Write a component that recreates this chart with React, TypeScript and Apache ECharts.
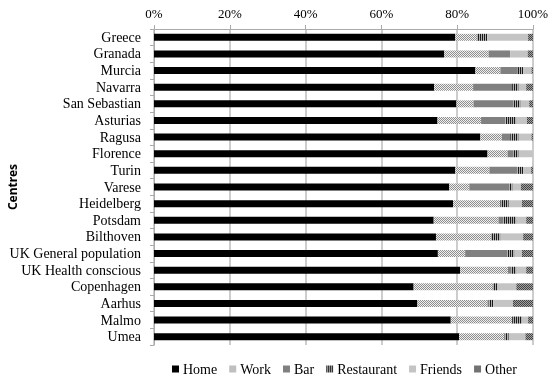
import React, { useEffect, useRef } from "react";
import * as echarts from "echarts";

const centres = ["Greece","Granada","Murcia","Navarra","San Sebastian","Asturias","Ragusa","Florence","Turin","Varese","Heidelberg","Potsdam","Bilthoven","UK General population","UK Health conscious","Copenhagen","Aarhus","Malmo","Umea"];
const home = [79.5,76.6,84.8,73.9,79.8,74.8,86.1,88.0,79.5,77.9,78.9,73.8,74.4,74.9,80.8,68.5,69.5,78.3,80.5];
const work = [5.7,11.7,6.6,10.3,4.5,11.5,5.7,5.3,9.0,5.3,12.5,17.1,14.5,7.2,12.6,20.9,18.5,16.2,12.0];
const bar = [0,5.7,4.6,10.3,10.6,6.4,2.2,1.6,7.3,10.4,0,1.2,0,11.2,0.8,0,0.4,0,0];
const restaurant = [2.8,0,1.4,1.7,1.8,2.9,2.2,1.3,1.6,1.0,2.2,3.5,2.5,1.8,1.4,1.3,1.2,2.6,1.1];
const friends = [10.7,4.6,2.2,2.0,2.3,2.8,3.4,3.8,2.1,2.2,3.5,2.6,6.0,2.0,2.6,4.9,5.1,1.6,4.4];
const other = [1.3,1.4,0.4,1.8,1.0,1.6,0.4,0,0.5,3.2,2.9,1.8,2.6,2.9,1.8,4.4,5.3,1.3,2.0];
const seriesNames = ["Home","Work","Bar","Restaurant","Friends","Other"];
const xTicks = ["0%","20%","40%","60%","80%","100%"];

function makePattern(kind: string) {
  const c = document.createElement("canvas");
  c.width = 4; c.height = 4;
  const ctx = c.getContext("2d")!;
  for (let y = 0; y < 4; y++) {
    for (let x = 0; x < 4; x++) {
      let col = "#fff";
      if (kind === "work") col = (x + y) % 2 === 0 ? "#8e8e8e" : "#f0f0f0";
      if (kind === "restaurant") col = x % 2 === 0 ? "#1a1a1a" : "#b0b0b0";
      if (kind === "other") col = (x + y) % 2 === 0 ? "#444" : "#a0a0a0";
      ctx.fillStyle = col;
      ctx.fillRect(x, y, 1, 1);
    }
  }
  return { image: c, repeat: "repeat" } as any;
}

export default function App() {
  const ref = useRef<HTMLDivElement>(null);
  useEffect(() => {
    const chart = echarts.init(ref.current!, null, { renderer: "svg" });
    const font = "'Liberation Serif', serif";
    const values = [home, work, bar, restaurant, friends, other];
    const colors: any[] = ["#000", makePattern("work"), "#808080", makePattern("restaurant"), "#c4c4c4", makePattern("other")];
    chart.setOption({
      animation: false,
      textStyle: { fontFamily: font },
      grid: { left: 154, right: 17, top: 29, bottom: 35, outerBoundsMode: "none", containLabel: false },
      legend: {
        top: 362,
        left: 167,
        width: 390,
        padding: [0, 5],
        itemWidth: 7,
        itemHeight: 7,
        itemGap: 12,
        icon: "rect",
        textStyle: { fontFamily: font, fontSize: 14, color: "#000", padding: [0, 0, 0, -1] },
        data: seriesNames,
      },
      xAxis: {
        type: "value",
        position: "top",
        min: 0,
        max: 100,
        interval: 20,
        axisLine: { show: true, lineStyle: { color: "#aaa" } },
        axisTick: { show: true, length: 4, lineStyle: { color: "#aaa" } },
        axisLabel: { formatter: (v: number) => xTicks[Math.round(v / 20)], fontFamily: font, fontSize: 13, color: "#000", margin: 9 },
        splitLine: { show: true, lineStyle: { color: "#bdbdbd", width: 1.5 } },
      },
      yAxis: {
        type: "category",
        inverse: true,
        data: centres,
        name: "Centres",
        nameLocation: "middle",
        nameGap: 136,
        nameRotate: 90,
        nameMoveOverlap: false,
        nameTextStyle: { fontFamily: "'Noto Sans', sans-serif", fontSize: 12, fontWeight: "bold", color: "#000" },
        axisLine: { show: true, lineStyle: { color: "#aaa" } },
        axisTick: { show: true, length: 4, interval: 0, lineStyle: { color: "#aaa" } },
        axisLabel: { interval: 0, fontFamily: font, fontSize: 14, color: "#000", margin: 13 },
      },
      series: seriesNames.map((n, i) => ({
        name: n,
        type: "bar",
        stack: "total",
        barWidth: 7,
        data: values[i],
        itemStyle: { color: colors[i] },
      })),
    });
    return () => chart.dispose();
  }, []);
  return <div ref={ref} style={{ position: "fixed", left: 0, top: 0, width: 550, height: 380 }} />;
}
